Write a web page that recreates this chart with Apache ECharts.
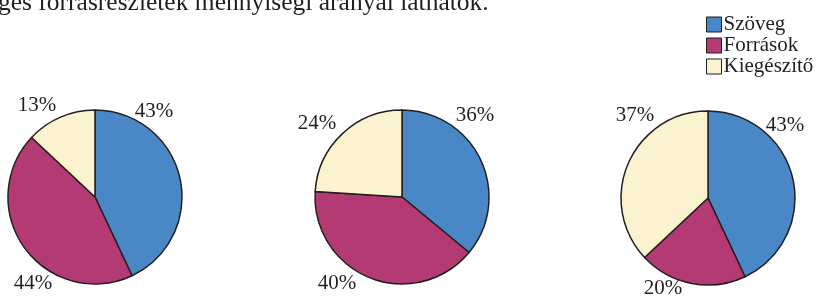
<!DOCTYPE html>
<html>
<head>
<meta charset="utf-8">
<script src="https://cdn.jsdelivr.net/npm/echarts@6/dist/echarts.min.js"></script>
<style>
html, body { margin: 0; padding: 0; background: #fff; }
#chart { width: 817px; height: 296px; }
</style>
</head>
<body>
<div id="chart"></div>
<script>
var categories = ['Szöveg', 'Források', 'Kiegészítő'],
	pie1 = [43, 44, 13],
	pie2 = [36, 40, 24],
	pie3 = [43, 20, 37],
	headline = 'ges forrásrészletek mennyiségi arányai láthatók.';

// pie centers and label spots (offset from center), in px
var centers = [[95, 197], [402, 197], [708, 198]],
	labelSpots = [
		[[59, -86], [-62, 86], [-58, -92]],
		[[73, -82], [-65, 86], [-85, -74]],
		[[77, -73], [-45, 90], [-73, -83]]
	],
	colors = ['#4a87c6', '#b43a74', '#fbf3cf'],
	serif = '"Liberation Serif", "DejaVu Serif", serif';

var chart = echarts.init(document.querySelector('#chart'));

function makePie(values, idx){
	return {
		type: 'pie',
		center: centers[idx],
		radius: 87,
		startAngle: 90,
		clockwise: true,
		silent: true,
		animation: false,
		avoidLabelOverlap: false,
		itemStyle: {
			borderColor: '#231f20',
			borderWidth: 1.5
		},
		label: {
			show: true,
			position: 'outside',
			formatter: '{c}%',
			fontFamily: serif,
			fontSize: 21,
			color: '#231f20'
		},
		labelLine: { show: false },
		labelLayout: function(p){
			var s = labelSpots[idx][p.dataIndex];
			return {
				x: centers[idx][0] + s[0],
				y: centers[idx][1] + s[1],
				align: 'center',
				verticalAlign: 'middle',
				hideOverlap: false
			};
		},
		data: values.map(function(v, i){
			return { name: categories[i], value: v };
		})
	};
}

var option = {
	color: colors,
	legend: {
		orient: 'vertical',
		left: 701,
		top: 9,
		icon: 'rect',
		itemWidth: 15,
		itemHeight: 15,
		itemGap: 0,
		selectedMode: false,
		itemStyle: { borderColor: '#231f20', borderWidth: 1 },
		textStyle: { fontFamily: serif, fontSize: 21, color: '#231f20', padding: [0, 0, 0, -3] },
		data: categories
	},
	graphic: [{
		type: 'text',
		left: -2,
		top: -10,
		style: {
			text: headline,
			font: '25.5px ' + serif,
			fill: '#231f20'
		}
	}],
	series: [makePie(pie1, 0), makePie(pie2, 1), makePie(pie3, 2)]
};

chart.setOption(option);
</script>
</body>
</html>
